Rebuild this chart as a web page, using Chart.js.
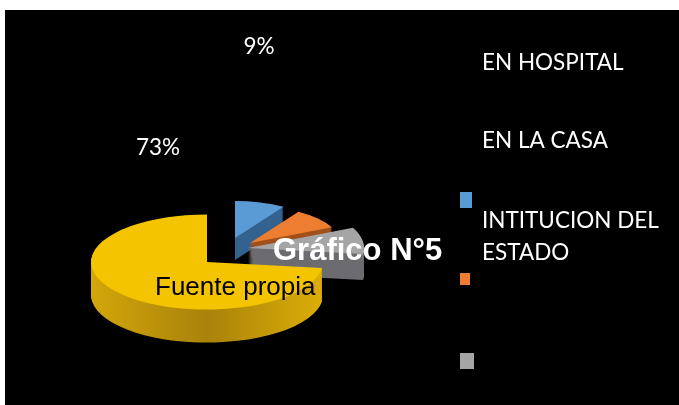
<!DOCTYPE html>
<html>
<head>
<meta charset="utf-8">
<style>
html,body{margin:0;padding:0;background:#fff;overflow:hidden}
#wrap{position:absolute;left:0;top:0;width:679px;height:405px}
</style>
<script src="https://cdn.jsdelivr.net/npm/chart.js@4/dist/chart.umd.min.js"></script>
</head>
<body>
<div id="wrap"><canvas id="c" width="679" height="405"></canvas></div>
<script>
const categories = ["EN HOSPITAL", "EN LA CASA", "INTITUCION DEL ESTADO", ""];
const values = [9, 9, 9, 73];
const shownLabels = ["9%", null, null, "73%"];
const colors = ["#5b9bd5", "#ed7d31", "#a5a5a5", "#f4c400"];
const sideColors = ["#33628f", "#a2501a", "#6c6c70", "#c2950c"];

// presentation of the tilted, exploded pie
const tilt = 0.41;
const slice = [
  {ax: 235, ay: 238, s: 0.78, depth: 22},
  {ax: 250, ay: 243, s: 0.78, depth: 14},
  {ax: 248, ay: 248, s: 1.0,  depth: 26},
  {ax: 207, ay: 262, s: 1.0,  depth: 33}
];
const legendText = [
  {x: 482, y: 63, lines: ["EN HOSPITAL"]},
  {x: 482, y: 141, lines: ["EN LA CASA"]},
  {x: 482, y: 221, lines: ["INTITUCION DEL", "ESTADO"]}
];
const legendBox = [
  {x: 460, y: 192, w: 12, h: 16},
  {x: 460, y: 273, w: 10, h: 12},
  {x: 460, y: 353, w: 14, h: 16}
];
const labelPos = [{x: 259, y: 47}, null, null, {x: 158, y: 148}];

const scene = {
  id: "scene",
  beforeDraw(chart) {
    const g = chart.ctx;
    g.save();
    g.fillStyle = "#fff"; g.fillRect(0, 0, 679, 405);
    g.fillStyle = "#000"; g.fillRect(5, 10, 674, 395);
    g.restore();
  },
  beforeDatasetDraw(chart) {
    const g = chart.ctx, arcs = chart.getDatasetMeta(0).data;
    const paint = (i, dy, fill) => {
      const el = arcs[i], o = el.options, sl = slice[i];
      g.save();
      g.translate(sl.ax, sl.ay + dy);
      g.scale(sl.s, sl.s * tilt);
      g.translate(-el.x, -el.y);
      el.options = Object.create(o, {
        backgroundColor: {value: fill},
        borderWidth: {value: 0}
      });
      el.draw(g);
      el.options = o;
      g.restore();
    };
    [0, 1, 2, 3].forEach(i => {
      const el = arcs[i];
      const side = g.createLinearGradient(el.x - 116, 0, el.x + 116, 0);
      side.addColorStop(0, i === 3 ? "#d3a60a" : sideColors[i]);
      side.addColorStop(0.5, i === 3 ? "#a9820a" : sideColors[i]);
      side.addColorStop(1, i === 3 ? "#dcae08" : sideColors[i]);
      for (let d = slice[i].depth; d >= 1; d--) paint(i, d, side);
      paint(i, 0, colors[i]);
    });
    return false;
  },
  afterDraw(chart) {
    const g = chart.ctx;
    g.save();
    g.textBaseline = "middle";
    g.textAlign = "left";
    g.fillStyle = "#fff";
    g.font = '22.5px Lato, "Open Sans", sans-serif';
    legendText.forEach(t => t.lines.forEach((ln, j) => g.fillText(ln, t.x, t.y + j * 32)));
    legendBox.forEach((b, i) => { g.fillStyle = colors[i]; g.fillRect(b.x, b.y, b.w, b.h); });
    g.fillStyle = "#fff";
    g.textAlign = "center";
    shownLabels.forEach((t, i) => { if (t) g.fillText(t, labelPos[i].x, labelPos[i].y); });
    g.textAlign = "left";
    g.fillStyle = "#000";
    g.font = '26px "Liberation Sans", Arial, sans-serif';
    g.fillText("Fuente propia", 155, 288);
    g.fillStyle = "#fff";
    g.font = 'bold 31px "Liberation Sans", Arial, sans-serif';
    g.fillText("Gráfico N°5", 273, 251);
    g.restore();
  }
};

new Chart(document.getElementById("c"), {
  type: "pie",
  data: {
    labels: categories,
    datasets: [{data: values, backgroundColor: colors, borderWidth: 0}]
  },
  options: {
    responsive: false,
    animation: false,
    rotation: 0,
    layout: {padding: {left: 90, right: 357, top: 144, bottom: 29}},
    plugins: {legend: {display: false}, tooltip: {enabled: false}, title: {display: false}}
  },
  plugins: [scene]
});
</script>
</body>
</html>
